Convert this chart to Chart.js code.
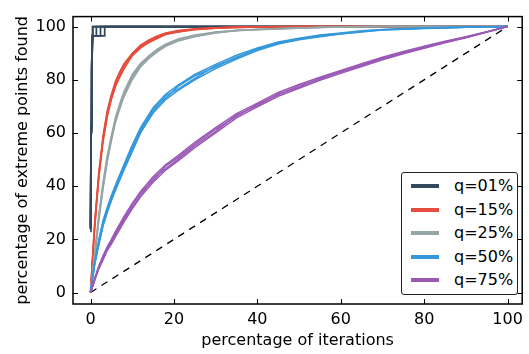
<!DOCTYPE html>
<html>
<head>
<meta charset="utf-8">
<script src="https://cdn.jsdelivr.net/npm/chart.js@4/dist/chart.umd.min.js"></script>
<style>
  body { margin: 0; background: #fff; }
  #wrap { position: relative; width: 529px; height: 354px; }
  #legend {
    position: absolute; left: 401px; top: 172px; width: 117px; height: 123px;
    border: 1px solid #222; border-radius: 3px; background: #fff; box-sizing: border-box;
    font-family: "DejaVu Sans", sans-serif; font-size: 16px; color: #000;
  }
  #legend .row { position: absolute; left: 0; height: 20px; }
  #legend .swatch { position: absolute; left: 9px; width: 28px; height: 4px; }
  #legend .label { position: absolute; left: 52px; white-space: nowrap; line-height: 20px; }
</style>
</head>
<body>
<div id="wrap">
  <canvas id="chart" width="529" height="354"></canvas>
  <div id="legend"></div>
</div>
<script>
const labels = ["q=01%", "q=15%", "q=25%", "q=50%", "q=75%"];
const colors = ["#34495e", "#e74c3c", "#95a5a6", "#3498db", "#9b59b6"];
const xTicks = [0, 20, 40, 60, 80, 100];
const yTicks = [0, 20, 40, 60, 80, 100];

// q=01%: every run has its own x positions
const q01X = [
  [0, 0.15, 0.3, 0.45, 0.55, 100],
  [0, 0.1, 0.25, 0.4, 0.5, 100],
  [0, 0.15, 0.3, 0.5, 1.4, 1.4, 100],
  [0, 0.15, 0.3, 0.5, 2.4, 2.4, 100],
  [0, 0.15, 0.3, 0.5, 3.4, 3.4, 100]
];
const q01Y = [
  [24, 63, 86, 97, 100, 100],
  [23, 58, 82, 95, 100, 100],
  [24, 60, 85, 96.5, 96.5, 100, 100],
  [25, 61, 84, 96.5, 96.5, 100, 100],
  [24, 62, 86, 96.5, 96.5, 100, 100]
];

// q=15% and q=25% share one x grid
const xFast = [0, 0.5, 1, 1.5, 2, 3, 4, 5, 6, 7, 8, 10, 12, 14, 16, 18, 21, 25, 30, 35, 40, 45, 50, 60, 70, 80, 90, 100];
const q15 = [
  [0, 14, 26.5, 36, 45.5, 59, 68.5, 74.5, 79.5, 83, 86, 90, 93, 95, 96.5, 97.6, 98.5, 99.2, 99.6, 99.8, 99.9, 100, 100, 100, 100, 100, 100, 100],
  [0, 12, 24, 34, 43, 56.5, 66, 72.5, 77.5, 81, 84, 89, 92, 94, 95.5, 97, 98, 98.8, 99.4, 99.6, 99.8, 99.9, 100, 100, 100, 100, 100, 100],
  [0, 13.5, 25.5, 35.5, 44.5, 58, 67.5, 73, 79, 82.5, 85.5, 89.5, 92.8, 94.3, 96.2, 97.1, 98.3, 99, 99.5, 99.7, 99.8, 99.9, 100, 100, 100, 100, 100, 100],
  [0, 12.5, 24.5, 34.5, 44, 57.5, 66.5, 74, 78, 81.5, 85, 89.8, 92.2, 94.8, 95.8, 97.4, 98, 99.1, 99.4, 99.8, 99.9, 99.9, 100, 100, 100, 100, 100, 100]
];
const q25 = [
  [0, 7.5, 15, 22, 29.5, 41.5, 51.5, 59, 66, 71, 75.5, 82, 86.2, 89, 91.5, 93.4, 95.3, 96.8, 98, 98.6, 99, 99.3, 99.6, 99.9, 100, 100, 100, 100],
  [0, 6.5, 13, 20, 27, 39, 49, 57, 64, 69, 73.5, 80, 84.8, 88, 90.5, 92.6, 94.6, 96.2, 97.6, 98.4, 98.8, 99.1, 99.4, 99.8, 100, 100, 100, 100],
  [0, 7, 14.5, 21.5, 28, 40.5, 49.5, 58.5, 64.5, 70.5, 74, 81.5, 85.5, 88.8, 91.2, 92.8, 95.2, 96.4, 97.9, 98.5, 98.9, 99.2, 99.5, 99.9, 100, 100, 100, 100],
  [0, 6.8, 13.5, 21, 28.5, 39.5, 50.5, 57.5, 65.5, 69.5, 75, 80.5, 85.8, 88.2, 90.8, 93.2, 94.8, 96.6, 97.7, 98.5, 98.9, 99.2, 99.5, 99.9, 100, 100, 100, 100]
];

// q=50% and q=75% share another x grid
const xSlow = [0, 1, 2, 3, 4, 5, 6, 8, 10, 12, 15, 18, 21, 25, 30, 35, 40, 45, 50, 55, 60, 65, 70, 75, 80, 85, 90, 95, 100];
const q50 = [
  [0, 11.5, 20, 27, 32, 36.5, 40.5, 48, 55.5, 62, 69.5, 74.5, 78, 82, 85.8, 89.2, 92, 94.2, 95.6, 96.8, 97.6, 98.4, 98.9, 99.2, 99.5, 99.7, 99.8, 99.9, 100],
  [0, 10.5, 18, 25, 30, 34.5, 38.5, 46, 53, 60, 67.5, 72.5, 76, 80, 84.2, 87.8, 91, 93.4, 95, 96.2, 97.2, 98, 98.7, 99, 99.3, 99.5, 99.7, 99.8, 100],
  [0, 11, 19.5, 26.5, 31.5, 35, 40, 47.5, 54.5, 60.5, 69, 73, 77.5, 81.5, 84.8, 88.6, 91.4, 93.9, 95.2, 96.6, 97.4, 98.2, 98.8, 99.1, 99.4, 99.6, 99.7, 99.85, 100],
  [0, 10.8, 18.5, 25.5, 30.5, 36, 39, 46.5, 53.5, 61.5, 68, 74, 76.5, 80.5, 85.3, 88.2, 91.7, 93.6, 95.4, 96.4, 97.3, 98.1, 98.8, 99.1, 99.4, 99.6, 99.7, 99.85, 100]
];
const q75 = [
  [0, 5.5, 10, 13.8, 17.2, 20, 23, 28.5, 33.5, 38, 43.5, 48, 51.5, 56.5, 62, 67.3, 71.2, 75.2, 78.2, 81, 83.5, 86, 88.5, 90.6, 92.6, 94.5, 96.2, 98.1, 100],
  [0, 4.5, 9, 12.3, 15.8, 18.2, 21, 26.5, 31.5, 36, 41.5, 46, 49.5, 54.5, 60, 65.7, 69.8, 73.8, 76.8, 79.8, 82.4, 85, 87.5, 89.8, 91.8, 93.9, 95.8, 97.9, 100],
  [0, 5, 9.8, 13.5, 16.3, 19.5, 22.5, 27, 33, 37.5, 42, 47.5, 50.8, 55.8, 61.4, 66.2, 70.8, 74.3, 77.8, 80.2, 83.2, 85.3, 88.2, 90.1, 92.3, 94.1, 96.1, 98, 100],
  [0, 4.8, 9.2, 12.6, 16.6, 18.8, 21.8, 28, 32, 36.5, 43, 46.5, 50.2, 55.2, 60.6, 66.8, 70.2, 74.7, 77.2, 80.7, 82.8, 85.7, 87.8, 90.3, 92, 94.3, 95.9, 98, 100]
];
const diagonal = [0, 100];

const pts = (xs, ys) => xs.map((x, i) => ({ x: x, y: ys[i] }));

const datasets = [];
// diagonal reference line, drawn underneath
datasets.push({
  data: pts(diagonal, diagonal),
  borderColor: "#000", borderWidth: 1.3, borderDash: [7, 6], order: 10
});
function addRuns(k, runs) {
  runs.forEach(r => datasets.push({
    data: pts(r.x, r.y),
    borderColor: colors[k], borderWidth: k === 0 ? 1.8 : 1.5, order: 6 - k
  }));
}
addRuns(0, q01X.map((xs, i) => ({ x: xs, y: q01Y[i] })));
addRuns(1, q15.map(ys => ({ x: xFast, y: ys })));
addRuns(2, q25.map(ys => ({ x: xFast, y: ys })));
addRuns(3, q50.map(ys => ({ x: xSlow, y: ys })));
addRuns(4, q75.map(ys => ({ x: xSlow, y: ys })));

// matplotlib style box with inward ticks
const frame = {
  id: "frame",
  afterDatasetsDraw(chart) {
    const { ctx, chartArea: a, scales: { x, y } } = chart;
    ctx.save();
    ctx.strokeStyle = "#000";
    ctx.lineWidth = 1;
    ctx.beginPath();
    xTicks.forEach(v => {
      const px = Math.round(x.getPixelForValue(v)) + 0.5;
      ctx.moveTo(px, a.bottom); ctx.lineTo(px, a.bottom - 5);
      ctx.moveTo(px, a.top); ctx.lineTo(px, a.top + 5);
    });
    yTicks.forEach(v => {
      const py = Math.round(y.getPixelForValue(v)) + 0.5;
      ctx.moveTo(a.left, py); ctx.lineTo(a.left + 5, py);
      ctx.moveTo(a.right, py); ctx.lineTo(a.right - 5, py);
    });
    ctx.stroke();
    ctx.lineWidth = 1.5;
    ctx.strokeRect(a.left, a.top, a.right - a.left, a.bottom - a.top);
    ctx.restore();
  }
};

Chart.defaults.color = "#000";
Chart.defaults.font.family = "'DejaVu Sans', sans-serif";
Chart.defaults.font.size = 16;

new Chart(document.getElementById("chart"), {
  type: "scatter",
  data: { datasets: datasets },
  options: {
    responsive: false,
    animation: false,
    showLine: true,
    elements: { point: { radius: 0, hoverRadius: 0 }, line: { tension: 0 } },
    layout: { padding: { top: 2, right: 4, left: 0, bottom: 0 } },
    plugins: { legend: { display: false }, tooltip: { enabled: false } },
    scales: {
      x: {
        type: "linear", min: -4.2, max: 103.5,
        grid: { display: false, drawTicks: false },
        border: { display: false },
        ticks: { padding: 6 },
        afterBuildTicks: s => { s.ticks = xTicks.map(v => ({ value: v })); },
        afterFit: s => { s.height = 50; },
        title: { display: true, text: "percentage of iterations", padding: { top: 0, bottom: 4 } }
      },
      y: {
        type: "linear", min: -4.3, max: 103.75,
        grid: { display: false, drawTicks: false },
        border: { display: false },
        ticks: { padding: 7 },
        afterBuildTicks: s => { s.ticks = yTicks.map(v => ({ value: v })); },
        afterFit: s => { s.width = 73; },
        title: { display: true, text: "percentage of extreme points found", padding: { top: 13, bottom: 0 } }
      }
    }
  },
  plugins: [frame]
});

// legend box
const legend = document.getElementById("legend");
const rowTops = [3, 27, 50, 74, 97];
labels.forEach((t, i) => {
  const row = document.createElement("div");
  row.className = "row";
  row.style.top = rowTops[i] + "px";
  row.innerHTML = '<div class="swatch" style="top:8px;background:' + colors[i] + '"></div><span class="label">' + t + '</span>';
  legend.appendChild(row);
});
</script>
</body>
</html>
